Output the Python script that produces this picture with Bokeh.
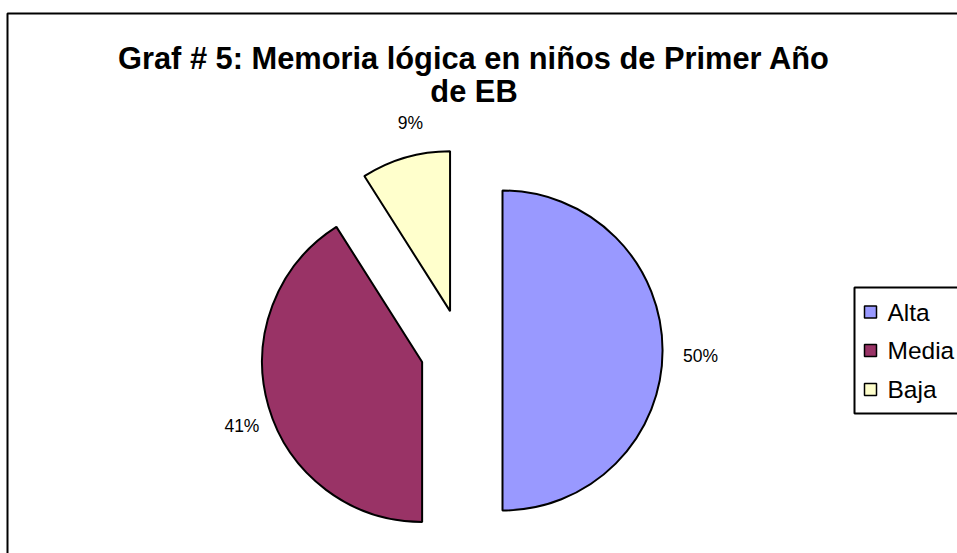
import numpy as np
from bokeh.plotting import figure
from bokeh.models import Range1d, ColumnDataSource
from bokeh.core.properties import value
from bokeh.embed import file_html
from bokeh.resources import INLINE

# ---- data ----
categories = ["Alta", "Media", "Baja"]
percent = [50, 41, 9]
colors = ["#9999FF", "#993366", "#FFFFCC"]
title_lines = ["Graf # 5: Memoria lógica en niños de Primer Año", "de EB"]

# ---- layout (pixel-like data units, y up) ----
W, H = 957, 553
cx, cy = 461, 203          # pie centre
R = 160                    # radius
EXPLODE = 41               # explosion distance
LABEL_R = R + 36
label_dx = [2, 8, 15]      # small placement nudges for data labels
label_dy = [-5, -9, 0]

p = figure(width=W, height=H, output_backend="svg", toolbar_location=None,
           x_range=Range1d(0, W), y_range=Range1d(0, H), min_border=0,
           outline_line_color=None, background_fill_color="white",
           border_fill_color="white")
p.axis.visible = False
p.grid.visible = False

# chart frame
p.quad(left=[7], right=[W + 50], bottom=[-50], top=[540], fill_color=None,
       line_color="black", line_width=2)

vals = np.array(percent, dtype=float)
frac = vals / vals.sum()
cum = np.concatenate([[0], np.cumsum(frac)[:-1]])
start = np.pi / 2 - cum * 2 * np.pi
end = np.pi / 2 - (cum + frac) * 2 * np.pi
mid = (start + end) / 2
ax = cx + EXPLODE * np.cos(mid)
ay = cy + EXPLODE * np.sin(mid)

src = ColumnDataSource(dict(x=ax, y=ay, start=start, end=end, color=colors,
                            lx=ax + LABEL_R * np.cos(mid) + np.array(label_dx),
                            ly=ay + LABEL_R * np.sin(mid) + np.array(label_dy),
                            label=[f"{v:.0f}%" for v in percent]))
p.wedge(x="x", y="y", radius=R, start_angle="start", end_angle="end",
        direction="clock", fill_color="color", line_color="black",
        line_width=2, source=src)
p.text(x="lx", y="ly", text="label", source=src, text_align="center",
       text_baseline="middle", text_font=value("Liberation Sans"),
       text_font_size="17.5px", text_color="black")

# title
p.text(x=[473.5, 473.5], y=[495, 462], text=title_lines, text_align="center",
       text_baseline="middle", text_font=value("Liberation Sans"),
       text_font_style="bold", text_font_size="30.8px", text_color="black")

# legend (manual, partially cut by right edge as in reference)
p.quad(left=[854], right=[W + 50], bottom=[140], top=[266], fill_color="white",
       line_color="black", line_width=2)
leg_y = [241.5, 203, 164]
p.scatter(x=[870] * 3, y=leg_y, marker="square", size=12, fill_color=colors,
          line_color="black", line_width=1.5)
p.text(x=[887] * 3, y=leg_y, text=categories, text_align="left",
       text_baseline="middle", text_font=value("Liberation Sans"),
       text_font_size="24.5px", text_color="black")

open("out.html", "w").write(file_html(p, INLINE))
